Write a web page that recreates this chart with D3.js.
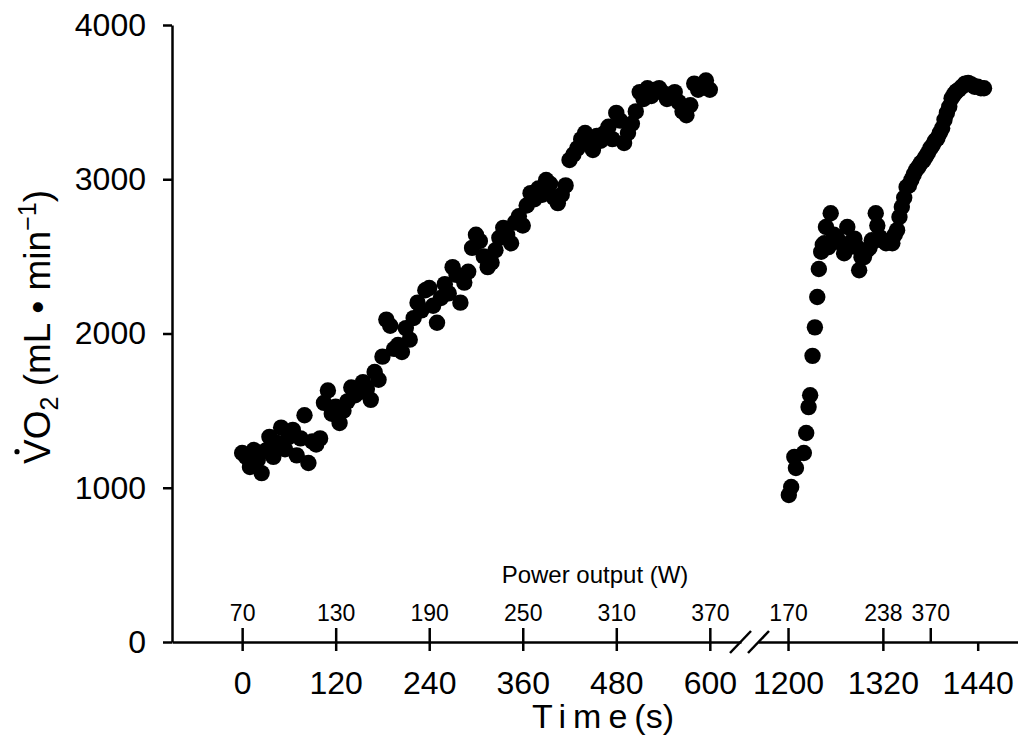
<!DOCTYPE html>
<html>
<head>
<meta charset="utf-8">
<script src="https://cdn.jsdelivr.net/npm/d3@7"></script>
<style>
body { margin: 0; background: #fff; }
svg text { font-family: Arial, "Liberation Sans", sans-serif; fill: #000; }
</style>
</head>
<body>
<svg id="chart" width="1018" height="749"></svg>
<script>
// incremental test, 0-600 s
const seg1Time = [
    0, 5, 10, 15, 20, 25, 30, 35, 40, 45,
    50, 55, 60, 65, 70, 75, 80, 85, 90, 95,
    100, 105, 110, 115, 120, 125, 130, 135, 140, 145,
    150, 155, 160, 165, 170, 175, 180, 185, 190, 195,
    200, 205, 210, 215, 220, 225, 230, 235, 240, 245,
    250, 255, 260, 265, 270, 275, 280, 285, 290, 295,
    300, 305, 310, 315, 320, 325, 330, 335, 340, 345,
    350, 355, 360, 365, 370, 375, 380, 385, 390, 395,
    400, 405, 410, 415, 420, 425, 430, 435, 440, 445,
    450, 455, 460, 465, 470, 475, 480, 485, 490, 495,
    500, 505, 510, 515, 520, 525, 530, 535, 540, 545,
    550, 555, 560, 565, 570, 575, 580, 585, 590, 595,
    600
];
const seg1VO2 = [
    1225, 1200, 1135, 1245, 1180, 1095, 1240, 1330, 1200, 1290,
    1390, 1250, 1330, 1375, 1210, 1320, 1470, 1160, 1300, 1280,
    1320, 1550, 1630, 1480, 1525, 1420, 1500, 1560, 1650, 1600,
    1620, 1685, 1640, 1570, 1750, 1700, 1850, 2090, 2050, 1900,
    1925, 1880, 2035, 1960, 2100, 2200, 2150, 2280, 2295, 2180,
    2070, 2230, 2320, 2260, 2430, 2380, 2200, 2330, 2400, 2555,
    2640, 2600, 2500, 2430, 2460, 2540, 2620, 2685, 2640, 2585,
    2720, 2760, 2700, 2830, 2910, 2870, 2940, 2900, 2995, 2970,
    2880, 2845, 2900, 2960, 3125, 3160, 3200, 3260, 3300, 3240,
    3190, 3280, 3250, 3300, 3340, 3260, 3430, 3380, 3235, 3300,
    3360, 3440, 3565, 3520, 3590, 3540, 3580, 3590, 3560, 3520,
    3540, 3565, 3500, 3440, 3415, 3480, 3620, 3580, 3600, 3640,
    3580
];

// incremental test, 1200 s onwards
const seg2Time = [
    1201, 1204, 1208, 1210, 1220, 1223, 1226, 1228, 1231, 1234, 1237,
    1239, 1242, 1244, 1246, 1248, 1251, 1254, 1258, 1261, 1264,
    1267, 1271, 1275, 1277, 1281, 1284, 1287, 1290, 1293, 1296,
    1300, 1303, 1306, 1309, 1311, 1313, 1316, 1319, 1324, 1328,
    1332, 1335, 1338, 1341, 1344, 1347, 1350, 1353, 1356, 1359,
    1362, 1365, 1368, 1371, 1374, 1377, 1380, 1383, 1386, 1389,
    1392, 1395, 1398, 1401, 1404, 1407, 1410, 1413, 1416, 1420,
    1424, 1428, 1432, 1436, 1440, 1444, 1448
];
const seg2VO2 = [
    953, 1005, 1200, 1128, 1225, 1355, 1523, 1600, 1855, 2040, 2237,
    2418, 2530, 2575, 2585, 2690, 2560, 2780, 2640, 2625, 2600,
    2585, 2520, 2690, 2560, 2600, 2615, 2560, 2410, 2495, 2495,
    2540, 2555, 2605, 2600, 2780, 2700, 2625, 2605, 2585, 2600,
    2585, 2640, 2670, 2755, 2820, 2880, 2950, 2960, 2995, 3030,
    3060, 3080, 3105, 3120, 3145, 3170, 3200, 3220, 3250, 3265,
    3300, 3330, 3385, 3430, 3470, 3525, 3550, 3570, 3580, 3600,
    3620, 3625, 3615, 3600, 3600, 3590, 3590
];

const yTicks = [0, 1000, 2000, 3000, 4000];
const timeTicks1 = [0, 120, 240, 360, 480, 600];
const timeTicks2 = [1200, 1320, 1440];
const powerTime1 = [0, 120, 240, 360, 480, 600];
const powerLabel1 = ["70", "130", "190", "250", "310", "370"];
const powerTime2 = [1200, 1320, 1380];
const powerLabel2 = ["170", "238", "370"];

const svg = d3.select("#chart");

const axisY = 642;
const y = d3.scaleLinear().domain([0, 4000]).range([axisY, 25]);
// broken time axis: two pieces with the same px per second
const x1 = d3.scaleLinear().domain([-90, 640]).range([172, 741]);
const x2 = d3.scaleLinear().domain([1162, 1491]).range([758, 1018]);

function styleAxis(g, size) {
    g.attr("font-family", null).attr("font-size", null);
    g.selectAll("path, line").attr("stroke", "#000").attr("stroke-width", 2.5);
    g.selectAll("text").style("font-size", size + "px").attr("fill", "#000");
}

// y axis
let yAxis = svg.append("g")
    .attr("transform", "translate(172,0)")
    .call(d3.axisLeft(y).tickValues(yTicks).tickSize(9).tickSizeOuter(0).tickPadding(17).tickFormat(d3.format("d")));
styleAxis(yAxis, 32);

// time axis (bottom ticks) - two pieces
let xAxis1 = svg.append("g")
    .attr("transform", "translate(0," + axisY + ")")
    .call(d3.axisBottom(x1).tickValues(timeTicks1).tickSize(9).tickSizeOuter(0).tickPadding(20)
        .tickFormat(d3.format("d")));
styleAxis(xAxis1, 32);

let xAxis2 = svg.append("g")
    .attr("transform", "translate(0," + axisY + ")")
    .call(d3.axisBottom(x2).tickValues(timeTicks2).tickSize(9).tickSizeOuter(0).tickPadding(20)
        .tickFormat(d3.format("d")));
styleAxis(xAxis2, 32);

// power output ticks (top side of the same line)
let pAxis1 = svg.append("g")
    .attr("transform", "translate(0," + axisY + ")")
    .call(d3.axisTop(x1).tickValues(powerTime1).tickSize(14).tickPadding(7)
        .tickFormat((d, i) => powerLabel1[i]));
pAxis1.select(".domain").remove();
styleAxis(pAxis1, 23);

let pAxis2 = svg.append("g")
    .attr("transform", "translate(0," + axisY + ")")
    .call(d3.axisTop(x2).tickValues(powerTime2).tickSize(14).tickPadding(7)
        .tickFormat((d, i) => powerLabel2[i]));
pAxis2.select(".domain").remove();
styleAxis(pAxis2, 23);

// axis break marks
const breakX = [740, 758];
svg.append("g").selectAll("line")
    .data(breakX)
    .enter().append("line")
    .attr("x1", d => d - 10).attr("y1", axisY + 11)
    .attr("x2", d => d + 11).attr("y2", axisY - 11)
    .attr("stroke", "#000").attr("stroke-width", 2.5);

// data points
const pts1 = seg1Time.map((t, i) => [x1(t), y(seg1VO2[i])]);
const pts2 = seg2Time.map((t, i) => [x2(t), y(seg2VO2[i])]);

svg.append("g").selectAll("circle")
    .data(pts1.concat(pts2))
    .enter().append("circle")
    .attr("cx", d => d[0])
    .attr("cy", d => d[1])
    .attr("r", 8.2)
    .attr("fill", "#000");

// power output title
svg.append("text")
    .attr("x", 595).attr("y", 583)
    .style("text-anchor", "middle")
    .style("font-size", "24px")
    .text("Power output (W)");

// time title
let tTitle = svg.append("text")
    .attr("x", 603).attr("y", 728)
    .style("text-anchor", "middle")
    .style("font-size", "34px");
tTitle.append("tspan").style("letter-spacing", "7px").text("Time");
tTitle.append("tspan").text("(s)");

// y title, rotated
let yTitleG = svg.append("g").attr("transform", "translate(50,327) rotate(-90)");
let yTitle = yTitleG.append("text")
    .attr("x", 0).attr("y", 0)
    .style("text-anchor", "middle")
    .style("font-size", "37px");
yTitle.append("tspan").text("VO");
yTitle.append("tspan").attr("dy", 8).style("font-size", "25px").text("2");
yTitle.append("tspan").attr("dy", -8).text(" (mL \u2022 min");
yTitle.append("tspan").attr("dy", -14).style("font-size", "25px").text("\u22121");
yTitle.append("tspan").attr("dy", 14).text(")");

// dot over the V
const tNode = yTitle.node();
const totalLen = tNode.getComputedTextLength();
const vLen = tNode.getSubStringLength(0, 1);
yTitleG.append("circle")
    .attr("cx", -totalLen / 2 + vLen / 2)
    .attr("cy", -33)
    .attr("r", 2.6)
    .attr("fill", "#000");
</script>
</body>
</html>
